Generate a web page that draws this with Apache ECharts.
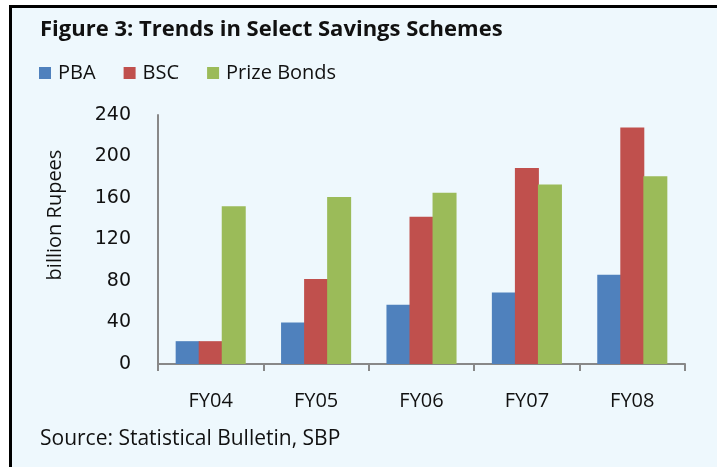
<!DOCTYPE html>
<html>
<head>
<meta charset="utf-8">
<script src="https://cdn.jsdelivr.net/npm/echarts@6/dist/echarts.min.js"></script>
<style>
  html, body { margin: 0; padding: 0; background: #fff; }
  #chart { width: 717px; height: 467px; }
</style>
</head>
<body>
<div id="chart"></div>
<script>
// data (billion Rupees)
const years = ['FY04', 'FY05', 'FY06', 'FY07', 'FY08'];
const pba = [22, 40, 57, 69, 86];
const bsc = [22, 82, 142, 189, 228];
const prizeBonds = [152, 161, 165, 173, 181];
const yTicks = [0, 40, 80, 120, 160, 200, 240];

const font = '"Open Sans", "DejaVu Sans", sans-serif';
const txt = '#111';

let inst = echarts.init(document.getElementById('chart'), null, { renderer: 'canvas' });
let option = {
  backgroundColor: '#fff',
  animation: false,
  graphic: [
    // panel background + black top/left border
    { type: 'rect', z: -10, shape: { x: 9, y: 5, width: 708, height: 462 }, style: { fill: '#EEF8FD' } },
    { type: 'rect', z: -9, shape: { x: 9, y: 5, width: 708, height: 3 }, style: { fill: '#000' } },
    { type: 'rect', z: -9, shape: { x: 9, y: 5, width: 3, height: 462 }, style: { fill: '#000' } },
    {
      type: 'text', left: 40, top: 19,
      style: { text: 'Figure 3: Trends in Select Savings Schemes', font: 'bold 22px ' + font, fill: txt }
    },
    {
      type: 'text', left: 40, top: 429,
      style: { text: 'Source: Statistical Bulletin, SBP', font: '21px ' + font, fill: txt }
    },
    {
      type: 'text', x: 55, y: 215, rotation: Math.PI / 2,
      style: { text: 'billion Rupees', font: '20px ' + font, fill: txt, align: 'center', verticalAlign: 'middle' }
    }
  ],
  legend: {
    left: 34, top: 58,
    itemWidth: 12, itemHeight: 12, itemGap: 28,
    icon: 'rect',
    textStyle: { fontFamily: font, fontSize: 20, color: txt, padding: [0, 0, 0, 2] },
    data: ['PBA', 'BSC', 'Prize Bonds']
  },
  grid: { left: 158, right: 32, top: 115, bottom: 103, containLabel: false },
  xAxis: {
    type: 'category',
    data: years,
    axisLine: { lineStyle: { color: '#888', width: 2 } },
    axisTick: { show: true, length: 7, lineStyle: { color: '#888', width: 2 } },
    axisLabel: { fontFamily: font, fontSize: 20, color: txt, margin: 27 }
  },
  yAxis: {
    type: 'value',
    min: 0, max: 240, interval: 40,
    splitLine: { show: false },
    axisLine: { show: true, lineStyle: { color: '#888', width: 2 } },
    axisTick: { show: false },
    axisLabel: {
      fontFamily: '"DejaVu Sans", sans-serif', fontSize: 19, color: txt, margin: 27,
      formatter: v => yTicks.includes(v) ? String(v) : ''
    }
  },
  series: [
    { name: 'PBA', type: 'bar', data: pba, barWidth: 24, barGap: '-4%', itemStyle: { color: '#4F81BD' } },
    { name: 'BSC', type: 'bar', data: bsc, barWidth: 24, barGap: '-4%', itemStyle: { color: '#C0504D' } },
    { name: 'Prize Bonds', type: 'bar', data: prizeBonds, barWidth: 24, barGap: '-4%', itemStyle: { color: '#9BBB59' } }
  ]
};
inst.setOption(option);
</script>
</body>
</html>
